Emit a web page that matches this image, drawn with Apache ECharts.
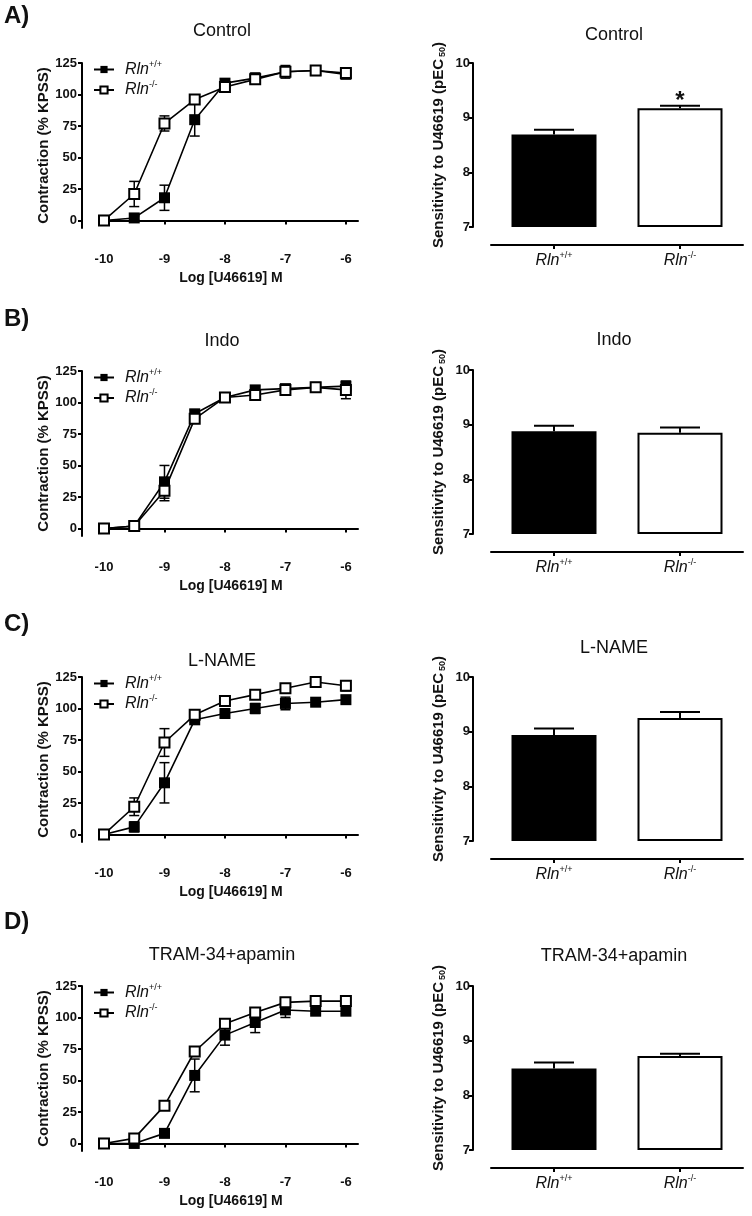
<!DOCTYPE html>
<html><head><meta charset="utf-8">
<script src="https://cdn.jsdelivr.net/npm/echarts@6/dist/echarts.min.js"></script>
<style>html,body{margin:0;padding:0;background:#fff}#c{width:752px;height:1216px}</style>
</head><body><div id="c"></div>
<script>
// ---------- data ----------
const doses = [-10, -9.5, -9, -8.5, -8, -7.5, -7, -6.5, -6];
const xTicks = [-10, -9, -8, -7, -6];
const yTicks = [0, 25, 50, 75, 100, 125];
const genotypes = ['Rln+/+', 'Rln-/-'];
const panelLetters = ['A)', 'B)', 'C)', 'D)'];
const treatments = ['Control', 'Indo', 'L-NAME', 'TRAM-34+apamin'];

const controlWt    = [0, 2, 18, 80, 109, 113, 118, 119, 116];
const controlWtErr = [0, 1.5, 10, 13, 2, 4, 3, 2, 2];
const controlKo    = [0, 21, 77, 96, 106, 112, 118, 119, 117];
const controlKoErr = [0, 10, 6, 2, 2, 3, 5, 2, 2];
const indoWt    = [0, 2, 37, 91, 104, 110, 111, 112, 113];
const indoWtErr = [0, 1, 13, 3, 2, 3, 2, 2, 3];
const indoKo    = [0, 2, 30, 87, 104, 106, 110, 112, 110];
const indoKoErr = [0, 1, 8, 3, 2, 3, 2, 2, 7];
const lnameWt    = [0, 6, 41, 91, 96, 100, 104, 105, 107];
const lnameWtErr = [0, 4, 16, 2, 3, 4, 5, 2, 3];
const lnameKo    = [0, 22, 73, 95, 106, 111, 116, 121, 118];
const lnameKoErr = [0, 7, 11, 2, 2, 2, 3, 2, 4];
const tramWt    = [0, 0, 8, 54, 86, 96, 106, 105, 105];
const tramWtErr = [0, 1, 2, 13, 8, 8, 6, 2, 2];
const tramKo    = [0, 4, 30, 73, 95, 104, 112, 113, 113];
const tramKoErr = [0, 1, 2, 3, 3, 2, 2, 2, 2];

const pec50Wt    = [8.69, 8.88, 8.94, 8.49];
const pec50WtErr = [0.09, 0.10, 0.12, 0.11];
const pec50Ko    = [9.17, 8.85, 9.25, 8.72];
const pec50KoErr = [0.05, 0.10, 0.11, 0.04];
const pec50KoSig = ['*', '', '', ''];

// ---------- layout ----------
const FONT = '"Liberation Sans", Arial, sans-serif';
const lineTop = [63, 371, 677, 986];
const barTop = [63, 370, 677, 986];
const lineTitleY = [33, 343, 663, 957];
const barTitleY = [37, 342, 650, 958];
const letterY = [17, 320, 625, 923];

const curves = [
  [controlWt, controlWtErr, controlKo, controlKoErr],
  [indoWt, indoWtErr, indoKo, indoKoErr],
  [lnameWt, lnameWtErr, lnameKo, lnameKoErr],
  [tramWt, tramWtErr, tramKo, tramKoErr]
];

const richLbl = {
  i: { fontStyle: 'italic', fontSize: 16, fontFamily: FONT, color: '#111' },
  sup: { fontSize: 9, fontFamily: FONT, color: '#111', padding: [0, 0, 10, 0] }
};
const richLegend = {
  i: { fontStyle: 'italic', fontSize: 16, fontFamily: FONT, color: '#111', padding: [0, 0, 0, 6] },
  sup: { fontSize: 9, fontFamily: FONT, color: '#111', padding: [0, 0, 10, 0] }
};
function genoFmt(name) {
  return name === 'Rln+/+' ? '{i|Rln}{sup|+/+}' : '{i|Rln}{sup|-/-}';
}

const axisLineStyle = { color: '#000', width: 2 };
const tickLabel = { color: '#111', fontSize: 13, fontWeight: 'bold', fontFamily: FONT };
const nameStyle = { color: '#111', fontSize: 15, fontWeight: 'bold', fontFamily: FONT };

function lineErr(params, api) {
  const x = api.value(0), m = api.value(1), e = api.value(2);
  if (!e) return null;
  const t = api.coord([x, m + e]), b = api.coord([x, m - e]);
  const hw = 5, st = { stroke: '#000', lineWidth: 1.5 };
  return { type: 'group', children: [
    { type: 'line', shape: { x1: t[0], y1: t[1], x2: b[0], y2: b[1] }, style: st },
    { type: 'line', shape: { x1: t[0] - hw, y1: t[1], x2: t[0] + hw, y2: t[1] }, style: st },
    { type: 'line', shape: { x1: b[0] - hw, y1: b[1], x2: b[0] + hw, y2: b[1] }, style: st }
  ]};
}

const grid = [], xAxis = [], yAxis = [], series = [], title = [], legend = [];

for (let i = 0; i < 4; i++) {
  const [wt, wtE, ko, koE] = curves[i];
  const gl = 2 * i, gb = 2 * i + 1;
  grid.push({ left: 104, top: lineTop[i], width: 254, height: 165 });
  grid.push({ left: 491, top: barTop[i], width: 252, height: 164 });

  xAxis.push({
    gridIndex: gl, type: 'value', min: -10, max: -5.8, offset: 17,
    axisLine: { show: true, lineStyle: axisLineStyle },
    axisTick: { show: true, length: 4, lineStyle: axisLineStyle, customValues: xTicks },
    axisLabel: Object.assign({ customValues: xTicks, margin: 8 }, tickLabel),
    splitLine: { show: false },
    name: 'Log [U46619] M', nameLocation: 'middle', nameGap: 26,
    nameTextStyle: Object.assign({}, nameStyle, { fontSize: 14 })
  });
  yAxis.push({
    gridIndex: gl, type: 'value', min: -6, max: 125, offset: 22,
    axisLine: { show: true, lineStyle: axisLineStyle },
    axisTick: { show: true, length: 4, lineStyle: axisLineStyle, customValues: yTicks },
    axisLabel: Object.assign({ customValues: yTicks, margin: 5 }, tickLabel),
    splitLine: { show: false },
    name: 'Contraction (% KPSS)', nameLocation: 'middle', nameGap: 30,
    nameTextStyle: nameStyle
  });
  xAxis.push({
    gridIndex: gb, type: 'category', data: genotypes, offset: 18,
    axisLine: { show: true, lineStyle: axisLineStyle },
    axisTick: { show: true, alignWithLabel: true, length: 4, lineStyle: axisLineStyle },
    axisLabel: { margin: 6, formatter: genoFmt, rich: richLbl }
  });
  yAxis.push({
    gridIndex: gb, type: 'value', min: 7, max: 10, interval: 1, offset: 18, startValue: 7,
    axisLine: { show: true, lineStyle: axisLineStyle },
    axisTick: { show: true, length: 4, lineStyle: axisLineStyle },
    axisLabel: Object.assign({ margin: 3 }, tickLabel),
    splitLine: { show: false },
    name: 'Sensitivity to U46619 (pEC{sub|50})', nameLocation: 'middle', nameGap: 26,
    nameTextStyle: Object.assign({}, nameStyle, {
      rich: { sub: { fontSize: 9, fontWeight: 'bold', fontFamily: FONT, color: '#111', padding: [8, 0, 0, 2] } }
    })
  });

  // error bars for curves
  series.push({
    type: 'custom', xAxisIndex: gl, yAxisIndex: gl, z: 1, clip: false,
    data: doses.map((d, k) => [d, wt[k], wtE[k]]), renderItem: lineErr, encode: { x: 0, y: 1 }, silent: true
  });
  series.push({
    type: 'custom', xAxisIndex: gl, yAxisIndex: gl, z: 1, clip: false,
    data: doses.map((d, k) => [d, ko[k], koE[k]]), renderItem: lineErr, encode: { x: 0, y: 1 }, silent: true
  });
  series.push({
    name: 'Rln+/+', type: 'line', xAxisIndex: gl, yAxisIndex: gl, z: 2, clip: false,
    data: doses.map((d, k) => [d, wt[k]]),
    symbol: 'rect', symbolSize: 11,
    itemStyle: { color: '#000' }, lineStyle: { color: '#000', width: 1.6 }
  });
  series.push({
    name: 'Rln-/-', type: 'line', xAxisIndex: gl, yAxisIndex: gl, z: 3, clip: false,
    data: doses.map((d, k) => [d, ko[k]]),
    symbol: 'rect', symbolSize: 10,
    itemStyle: { color: '#fff', borderColor: '#000', borderWidth: 2 }, lineStyle: { color: '#000', width: 1.6 }
  });

  // bars
  series.push({
    type: 'bar', xAxisIndex: gb, yAxisIndex: gb, barWidth: 85, clip: false,
    data: [
      { value: pec50Wt[i], itemStyle: { color: '#000' } },
      { value: pec50Ko[i], itemStyle: { color: '#fff', borderColor: '#000', borderWidth: 2 } }
    ]
  });
  const sig = ['', pec50KoSig[i]];
  series.push({
    type: 'custom', xAxisIndex: gb, yAxisIndex: gb, z: 3, clip: false, silent: true,
    encode: { x: 0, y: 1 },
    data: [[0, pec50Wt[i], pec50WtErr[i]], [1, pec50Ko[i], pec50KoErr[i]]],
    renderItem: function (params, api) {
      const c = api.value(0), m = api.value(1), e = api.value(2);
      const t = api.coord([c, m + e]), b = api.coord([c, m]);
      const hw = 20, st = { stroke: '#000', lineWidth: 2 };
      const ch = [
        { type: 'line', shape: { x1: t[0], y1: t[1], x2: b[0], y2: b[1] }, style: st },
        { type: 'line', shape: { x1: t[0] - hw, y1: t[1], x2: t[0] + hw, y2: t[1] }, style: st }
      ];
      const s = sig[params.dataIndex];
      if (s) ch.push({ type: 'text', x: t[0], y: t[1] + 8, style: {
        text: s, fill: '#111', font: 'bold 24px ' + FONT, align: 'center', verticalAlign: 'bottom' } });
      return { type: 'group', children: ch };
    }
  });

  legend.push({
    left: 93, top: lineTop[i] - 3, orient: 'vertical', padding: 0, itemGap: 3,
    itemWidth: 20, itemHeight: 9, selectedMode: false,
    data: genotypes, formatter: genoFmt,
    textStyle: { rich: richLegend }
  });

  title.push({ text: panelLetters[i], left: 4, top: letterY[i] - 13, padding: 0,
    textStyle: { fontSize: 24, fontWeight: 'bold', fontFamily: FONT, color: '#111' } });
  title.push({ text: treatments[i], left: 222, top: lineTitleY[i] - 11, textAlign: 'center', padding: 0,
    textStyle: { fontSize: 18, fontWeight: 'normal', fontFamily: FONT, color: '#111' } });
  title.push({ text: treatments[i], left: 614, top: barTitleY[i] - 11, textAlign: 'center', padding: 0,
    textStyle: { fontSize: 18, fontWeight: 'normal', fontFamily: FONT, color: '#111' } });
}

const chart = echarts.init(document.getElementById('c'), null, { renderer: 'canvas' });
chart.setOption({
  animation: false, backgroundColor: '#fff',
  title, legend, grid, xAxis, yAxis, series
});
</script></body></html>
